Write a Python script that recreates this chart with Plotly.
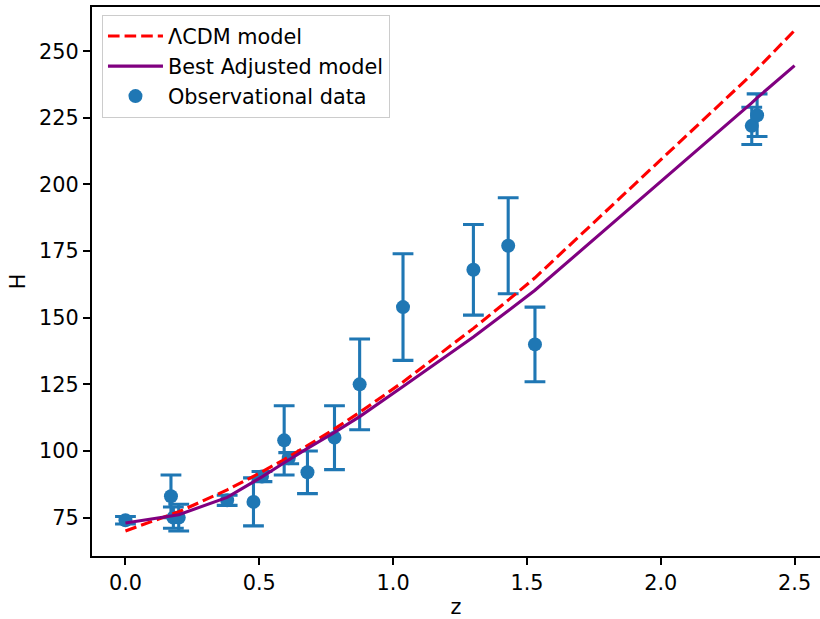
import plotly.graph_objects as go

# Observational data
z_obs = [0.0, 0.17, 0.179, 0.199, 0.38, 0.4783, 0.51, 0.593, 0.61, 0.68,
         0.781, 0.875, 1.037, 1.3, 1.43, 1.53, 2.34, 2.36]
H_obs = [74.0, 83.0, 75.0, 75.0, 81.5, 80.9, 90.4, 104.0, 97.3, 92.0,
         105.0, 125.0, 154.0, 168.0, 177.0, 140.0, 222.0, 226.0]
H_err = [1.4, 8.0, 4.0, 5.0, 1.9, 9.0, 1.9, 13.0, 2.1, 8.0,
         12.0, 17.0, 20.0, 17.0, 18.0, 14.0, 7.0, 8.0]

# Model curves
z_model = [0.0, 0.17, 0.179, 0.199, 0.38, 0.4783, 0.51, 0.593, 0.61, 0.68,
           0.781, 0.875, 1.037, 1.3, 1.43, 1.53, 2.34, 2.36, 2.5]
H_lcdm = [70.0, 76.1, 76.4, 77.2, 85.4, 90.4, 92.2, 96.8, 97.8, 102.0,
          108.3, 114.5, 125.9, 146.0, 156.6, 165.0, 241.3, 243.3, 257.8]
H_best = [73.0, 75.4, 75.6, 76.1, 82.6, 88.3, 90.3, 95.6, 96.7, 101.0,
          107.0, 112.9, 124.2, 142.8, 152.6, 160.3, 230.6, 232.5, 244.6]

FS = 20.8
FONT = "DejaVu Sans"

fig = go.Figure()

fig.add_trace(go.Scatter(
    x=z_obs, y=H_obs, mode="markers", name="Observational data",
    marker=dict(color="#1f77b4", size=14),
    error_y=dict(type="data", array=H_err, visible=True,
                 color="#1f77b4", thickness=3.1, width=10.4),
    legendrank=3,
))
fig.add_trace(go.Scatter(
    x=z_model, y=H_lcdm, mode="lines", name="ΛCDM model",
    line=dict(color="red", width=3.1, dash="11.6px,5px"),
    legendrank=1,
))
fig.add_trace(go.Scatter(
    x=z_model, y=H_best, mode="lines", name="Best Adjusted model",
    line=dict(color="purple", width=3.1),
    legendrank=2,
))

axis_common = dict(
    showgrid=False, zeroline=False, showline=True, linecolor="black",
    linewidth=1.6, ticks="outside", ticklen=7.3, tickwidth=1.6,
    tickcolor="black", tickfont=dict(family=FONT, size=FS, color="black"),
    automargin=False,
)

fig.update_layout(
    width=820, height=619,
    margin=dict(l=92, r=0, t=7, b=63, autoexpand=False),
    paper_bgcolor="white", plot_bgcolor="white",
    font=dict(family=FONT, size=FS, color="black"),
    xaxis=dict(range=[-0.125, 2.595], tickvals=[0, 0.5, 1.0, 1.5, 2.0, 2.5],
               ticktext=["0.0", "0.5", "1.0", "1.5", "2.0", "2.5"],
               mirror=True,
               title=dict(text="z", font=dict(family=FONT, size=FS), standoff=8),
               **axis_common),
    yaxis=dict(range=[60.6, 266.6], tickvals=[75, 100, 125, 150, 175, 200, 225, 250],
               mirror=False,
               title=dict(text="H", font=dict(family=FONT, size=FS), standoff=8),
               **axis_common),
    legend=dict(x=0.0137, y=0.9854, xanchor="left", yanchor="top",
                bgcolor="rgba(255,255,255,0.8)", bordercolor="#cccccc",
                borderwidth=1, itemwidth=55, font=dict(family=FONT, size=FS)),
    showlegend=True,
)

fig.write_html("out.html",
               config={"displayModeBar": False},
               post_script="document.body.style.margin='0px';document.body.style.overflow='hidden';")
